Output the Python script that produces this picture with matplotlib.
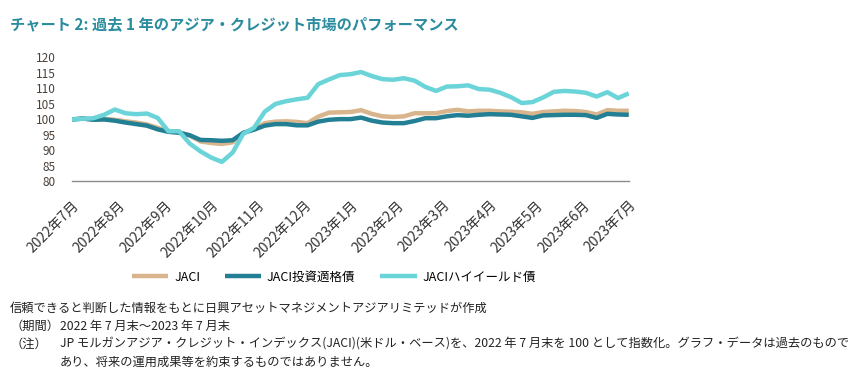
import numpy as np
import pandas as pd
import matplotlib
matplotlib.use("Agg")
import matplotlib.pyplot as plt

plt.rcParams["font.family"] = ["Noto Sans CJK JP", "DejaVu Sans"]

# weekly index values (end of Jul 2022 = 100)
dates = pd.date_range("2022-07-29", periods=53, freq="7D")
jaci = [100.0, 100.3, 100.0, 100.2, 99.9, 99.4, 99.0, 98.4, 97.3, 96.3,
        95.9, 94.8, 92.9, 92.4, 92.1, 92.6, 95.6, 96.9, 98.8, 99.3,
        99.4, 99.2, 98.8, 100.9, 102.2, 102.3, 102.4, 103.0, 101.8, 101.0,
        100.8, 101.0, 102.0, 102.0, 102.0, 102.7, 103.1, 102.6, 102.8, 102.8,
        102.6, 102.5, 102.3, 101.8, 102.4, 102.6, 102.8, 102.7, 102.4, 101.6,
        103.0, 102.8, 102.8]
jaci_ig = [100.0, 100.3, 99.9, 100.0, 99.6, 99.0, 98.5, 98.0, 96.8, 96.0,
           95.7, 94.9, 93.4, 93.3, 93.1, 93.3, 95.7, 96.7, 98.0, 98.5,
           98.5, 98.1, 98.1, 99.3, 99.9, 100.1, 100.1, 100.6, 99.6, 99.0,
           98.8, 98.8, 99.5, 100.4, 100.4, 101.0, 101.4, 101.2, 101.5, 101.7,
           101.6, 101.5, 101.0, 100.5, 101.3, 101.4, 101.5, 101.5, 101.4, 100.5,
           101.8, 101.6, 101.5]
jaci_hy = [100.0, 100.2, 100.4, 101.5, 103.2, 102.0, 101.7, 101.9, 100.5, 96.2,
           96.2, 92.2, 89.7, 87.7, 86.3, 89.3, 95.4, 97.3, 102.5, 105.0,
           105.9, 106.5, 107.0, 111.4, 112.9, 114.3, 114.6, 115.3, 114.0, 113.0,
           112.8, 113.3, 112.5, 110.5, 109.2, 110.6, 110.7, 111.0, 109.8, 109.6,
           108.6, 107.2, 105.3, 105.6, 107.1, 108.9, 109.2, 109.0, 108.6, 107.4,
           108.8, 106.9, 108.4]
month_labels = ["2022年7月", "2022年8月", "2022年9月", "2022年10月", "2022年11月",
                "2022年12月", "2023年1月", "2023年2月", "2023年3月", "2023年4月",
                "2023年5月", "2023年6月", "2023年7月"]
series_names = ["JACI", "JACI投資適格債", "JACIハイイールド債"]

colors = ["#D8B58C", "#237F93", "#6AD4D8"]

fig = plt.figure(figsize=(8.52, 3.78), dpi=100)
ax = fig.add_axes([0.0845, 0.52, 0.6535, 0.328])

for vals, name, c in zip([jaci, jaci_ig, jaci_hy], series_names, colors):
    ax.plot(dates, vals, color=c, lw=3.2, label=name, solid_capstyle="butt")

ax.set_xlim(dates[0], dates[-1])
ax.set_ylim(80, 120)
ax.set_yticks(np.arange(80, 121, 5))
ticks = pd.date_range(dates[0], dates[-1], periods=len(month_labels))
ax.set_xticks(ticks)
ax.set_xticklabels(month_labels, rotation=45, ha="right", rotation_mode="anchor",
                   fontsize=10, color="#333333")
ax.tick_params(axis="x", length=0, pad=12)
ax.tick_params(axis="y", length=0, pad=12, labelsize=8.5, labelcolor="#4a4038")
for s in ["top", "right", "left"]:
    ax.spines[s].set_visible(False)
ax.spines["bottom"].set_color("#8c8c8c")
ax.spines["bottom"].set_linewidth(1.0)

fig.legend(loc="center", bbox_to_anchor=(0.392, 0.267), ncol=3, frameon=False,
           fontsize=9, handlelength=2.9, handletextpad=0.45, columnspacing=2.0)

fig.text(0.012, 0.935, "チャート 2: 過去 1 年のアジア・クレジット市場のパフォーマンス",
         fontsize=11, fontweight="bold", color="#2B8C9E", va="center")

foot = "#222222"
fs = 8.8
fig.text(0.012, 1 - 308 / 378, "信頼できると判断した情報をもとに日興アセットマネジメントアジアリミテッドが作成",
         fontsize=fs, color=foot, va="center")
fig.text(0.012, 1 - 326 / 378, "（期間）", fontsize=fs, color=foot, va="center")
fig.text(0.070, 1 - 326 / 378, "2022 年 7 月末～2023 年 7 月末", fontsize=fs, color=foot, va="center")
fig.text(0.012, 1 - 344 / 378, "（注）", fontsize=fs, color=foot, va="center")
fig.text(0.070, 1 - 344 / 378,
         "JP モルガンアジア・クレジット・インデックス(JACI)(米ドル・ベース)を、2022 年 7 月末を 100 として指数化。グラフ・データは過去のもので",
         fontsize=fs, color=foot, va="center")
fig.text(0.070, 1 - 362 / 378, "あり、将来の運用成果等を約束するものではありません。",
         fontsize=fs, color=foot, va="center")

fig.savefig("out.png", dpi=100)
